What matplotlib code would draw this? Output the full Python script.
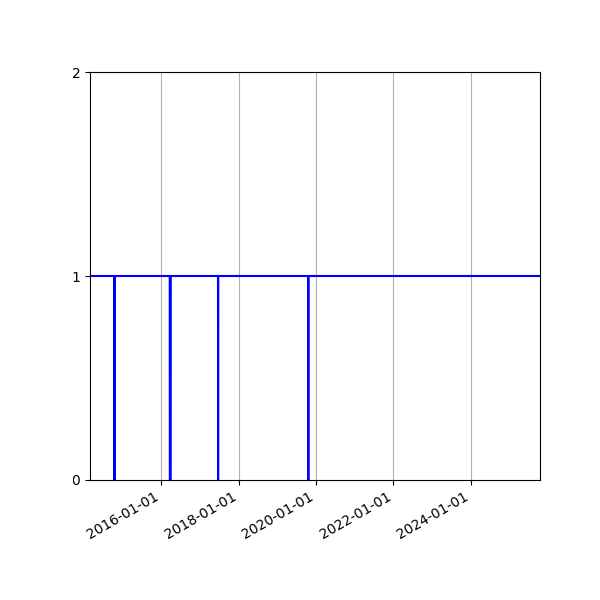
import matplotlib
matplotlib.use("Agg")
import matplotlib.pyplot as plt
import matplotlib.dates as mdates
import pandas as pd

dates = ["2014-02-27", "2014-10-15", "2014-10-16", "2014-10-17",
         "2016-03-21", "2016-03-22", "2016-03-30", "2016-03-31",
         "2017-06-20", "2017-06-21", "2017-06-22",
         "2019-10-20", "2019-10-21", "2019-10-22", "2025-10-17"]
values = [1, 1, 0, 1,
          1, 0, 0, 1,
          1, 0, 1,
          1, 0, 1, 1]

x = pd.to_datetime(dates)

fig = plt.figure(figsize=(6, 6), dpi=100)
ax = fig.add_subplot(111)
fig.subplots_adjust(left=0.15, right=0.9, top=0.88, bottom=0.2)
ax.plot(x, values, color="blue", linewidth=1.5)
ax.set_xlim(x[0], x[-1])
ax.set_ylim(0, 2)
ax.set_yticks([0, 1, 2])
ax.xaxis.set_major_locator(mdates.YearLocator(2))
ax.xaxis.set_major_formatter(mdates.DateFormatter("%Y-%m-%d"))
ax.grid(True, axis="x")
for lbl in ax.get_xticklabels():
    lbl.set_rotation(30)
    lbl.set_ha("right")
fig.savefig("out.png")
